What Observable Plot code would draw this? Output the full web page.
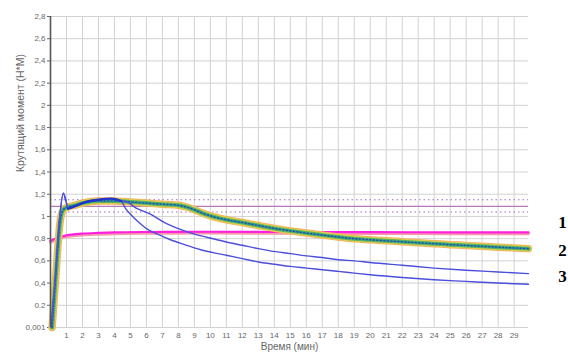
<!DOCTYPE html>
<html><head><meta charset="utf-8">
<script src="https://cdn.jsdelivr.net/npm/d3@7"></script>
<script src="https://cdn.jsdelivr.net/npm/@observablehq/plot@0.6"></script>
<style>body{margin:0;background:#fff}</style>
</head><body><div id="chart"></div>
<script>
// Tick values and labels
const xTicks = [1,2,3,4,5,6,7,8,9,10,11,12,13,14,15,16,17,18,19,20,21,22,23,24,25,26,27,28,29];
const yTicks = [0,0.2,0.4,0.6,0.8,1,1.2,1.4,1.6,1.8,2,2.2,2.4,2.6,2.8];
const yTickLabels = ["0,001","0.2","0,4","0,6","0,8","1","1,2","1,4","1,6","1,8","2","2,2","2,4","2,6","2,8"];

// Experimental band (noisy coloured curve)
const bandT = [0.1,0.35,0.6,0.8,1.0,1.5,2,3,4,5,6,7,8,8.5,9,9.5,10,11,12,13,14,15,16,17,18,19,20,21,22,23,24,25,26,27,28,29,29.9];
const bandV = [0,0.5,0.95,1.06,1.08,1.10,1.12,1.14,1.14,1.13,1.12,1.11,1.10,1.085,1.06,1.03,1.005,0.97,0.945,0.918,0.892,0.87,0.85,0.832,0.815,0.80,0.79,0.78,0.772,0.763,0.755,0.746,0.739,0.731,0.723,0.716,0.71];

// Model curve 2
const line2T = [0.05,0.3,0.55,0.8,0.95,1.1,1.5,2,3,3.8,4.4,4.8,5.3,6.25,7.2,8,9,10.3,11,12,13,13.75,15,16,17,18,19,20,22,24,26,28,29.9];
const line2V = [0,0.45,0.95,1.21,1.15,1.07,1.09,1.12,1.15,1.16,1.14,1.13,1.08,1.02,0.94,0.89,0.84,0.795,0.77,0.74,0.71,0.69,0.665,0.645,0.63,0.61,0.60,0.585,0.56,0.535,0.515,0.50,0.485];

// Model curve 3
const line3T = [0.05,0.3,0.55,0.8,0.95,1.1,1.5,2,3,3.8,4.4,4.7,5,5.5,6,6.7,7.5,8.3,9.4,10.3,11,12,13,14,15,16,17,18,19,20,22,24,26,28,29.9];
const line3V = [0,0.45,0.95,1.21,1.15,1.07,1.09,1.12,1.15,1.16,1.14,1.07,1.02,0.95,0.89,0.84,0.79,0.75,0.70,0.67,0.65,0.62,0.59,0.57,0.55,0.535,0.52,0.505,0.49,0.475,0.45,0.43,0.415,0.40,0.39];

// Pink curve
const pinkT = [0,0.5,1,2,3,4,6,10,15,20,25,29.9];
const pinkV = [0.78,0.81,0.83,0.845,0.852,0.857,0.86,0.862,0.86,0.858,0.857,0.856];

// Reference levels
const refLevels = [1.15, 1.09, 1.04];
const refStyles = ["dot","solid","dot"];

// Right side labels
const sideLabels = ["1","2","3"];
const sideLabelY = [0.945, 0.695, 0.46];

const band = bandT.map((t,i)=>({t, v:bandV[i]}));
const l2 = line2T.map((t,i)=>({t, v:line2V[i]}));
const l3 = line3T.map((t,i)=>({t, v:line3V[i]}));
const pink = pinkT.map((t,i)=>({t, v:pinkV[i]}));
const pinkLow = pinkT.map((t,i)=>({t, v:pinkV[i]-0.012}));
const refs = refLevels.map((v,i)=>({v, s:refStyles[i]}));
const side = sideLabels.map((s,i)=>({s, y:sideLabelY[i]}));

const curve = "monotone-x";
const chart = Plot.plot({
  width: 568, height: 354,
  marginLeft: 50, marginRight: 40, marginTop: 16, marginBottom: 27,
  style: {fontFamily: "Liberation Sans, Arial, sans-serif", fontSize: "8px", color: "#666", background: "#fff", overflow: "visible"},
  x: {domain: [0, 29.9], ticks: xTicks, tickFormat: d => String(d), tickSize: 0, tickPadding: 5, label: null},
  y: {domain: [0, 2.8], ticks: yTicks, tickFormat: d => yTickLabels[yTicks.indexOf(d)], tickSize: 3, tickPadding: 2, label: null},
  marks: [
    Plot.gridX(xTicks, {stroke: "#d2d2d2", strokeOpacity: 1}),
    Plot.gridY(yTicks, {stroke: "#d2d2d2", strokeOpacity: 1}),
    // reference horizontal lines
    Plot.ruleY(refs.filter(d=>d.s==="dot"), {y: "v", stroke: "#9a6ccc", strokeWidth: 1.2, strokeDasharray: "1.5,3"}),
    Plot.ruleY(refs.filter(d=>d.s==="solid"), {y: "v", stroke: "#b27ab8", strokeWidth: 1.3}),
    // pink curve
    Plot.line(pinkLow, {x: "t", y: "v", stroke: "#f59aa8", strokeWidth: 3, curve}),
    Plot.line(pink, {x: "t", y: "v", stroke: "#ff1fe0", strokeWidth: 2.2, curve}),
    // experimental band
    Plot.line(band, {x: "t", y: "v", stroke: "#f4b45e", strokeWidth: 7.5, curve}),
    Plot.line(band, {x: "t", y: "v", stroke: "#d9d652", strokeWidth: 5.5, curve}),
    Plot.line(band, {x: "t", y: "v", stroke: "#5cb35a", strokeWidth: 4, curve}),
    Plot.line(band, {x: "t", y: "v", stroke: "#2f9aa4", strokeWidth: 2, strokeDasharray: "2,1.5", curve}),
    Plot.line(band, {x: "t", y: "v", stroke: "#1b2a80", strokeWidth: 1.4, strokeOpacity: 0.6, strokeDasharray: "1,2.5", curve}),
    // model curves
    Plot.line(l3, {x: "t", y: "v", stroke: "#4b4fdc", strokeWidth: 1.4, curve}),
    Plot.line(l2, {x: "t", y: "v", stroke: "#4b4fdc", strokeWidth: 1.4, curve}),
    Plot.line(l2.filter(d=>d.t>=1 && d.t<=4.6), {x: "t", y: "v", stroke: "#2233cc", strokeWidth: 2.4, curve}),
    // y axis line
    Plot.ruleX([0], {stroke: "#555", strokeWidth: 1.6}),
    // axis titles
    Plot.text(["Время (мин)"], {frameAnchor: "bottom", dy: 22, fontSize: 10, fill: "#666"}),
    Plot.text(["Крутящий момент (Н*М)"], {frameAnchor: "left", dx: -30, rotate: -90, fontSize: 10.5, fill: "#666"}),
    // side labels
    Plot.text(side, {x: () => 29.9, y: "y", text: "s", dx: 34, fontFamily: "Liberation Serif, Times New Roman, serif", fontWeight: "bold", fontSize: 17, fill: "#000", clip: false})
  ]
});
document.getElementById("chart").append(chart);
</script>
</body></html>
